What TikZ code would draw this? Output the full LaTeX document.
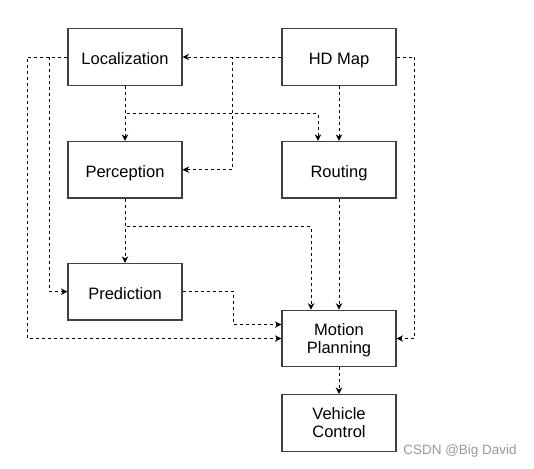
\documentclass[tikz,border=0pt]{standalone}
\usepackage{fontspec}
\setmainfont{Liberation Sans}
\usetikzlibrary{arrows.meta}
\newcommand\twoline[2]{\raisebox{-2.5pt}[\height][\depth]{\begin{tabular}{@{}c@{}}#1\\#2\end{tabular}}}
\begin{document}
\begin{tikzpicture}[x=1pt,y=-1pt,
  box/.style={draw=black!75,line width=1.1pt,fill=white,minimum width=114pt,minimum height=56.5pt,inner sep=0pt,font=\fontsize{16.5}{18}\selectfont},
  one/.style={box,text height=14.6pt,text depth=0pt},
  link/.style={line width=0.9pt,dash pattern=on 3pt off 3pt,-{Stealth[length=6.5pt,width=6.5pt,inset=2pt]}},
  wm/.style={text=black!40,font=\fontsize{13.5}{15}\selectfont,inner sep=0pt}]
\useasboundingbox (0,0) rectangle (534,468);
\node[one] (loc) at (125,57) {Localization};
\node[one] (hd) at (339,57) {HD Map};
\node[one] (per) at (125,169.7) {Perception};
\node[one] (rout) at (339,169.7) {Routing};
\node[one] (pred) at (125,291.7) {Prediction};
\node[box] (mp) at (339,338.5) {\twoline{Motion}{Planning}};
\node[box] (vc) at (339,422.8) {\twoline{Vehicle}{Control}};
\node[wm] (w) at (460,451) {CSDN @Big David};
% connectors
\draw[link] (hd.west) -- (loc.east);
\draw[link] (hd.west) -- ++(-49,0) |- (per.east);
\draw[link] (loc.south) -- (per.north);
\draw[link] (loc.south) -- ++(0,28) -| ([xshift=-21pt]rout.north);
\draw[link] (hd.south) -- (rout.north);
\draw[link] (hd.east) -- ++(18,0) |- (mp.east);
\draw[link] (loc.west) -- ++(-40,0) |- (mp.west);
\draw[link] (loc.west) -- ++(-18,0) |- (pred.west);
\draw[link] (per.south) -- (pred.north);
\draw[link] (per.south) -- ++(0,28) -| ([xshift=-28pt]mp.north);
\draw[link] (rout.south) -- (mp.north);
\draw[link] (pred.east) -- ++(51,0) |- ([yshift=14pt]mp.west);
\draw[link] (mp.south) -- (vc.north);
\end{tikzpicture}
\end{document}
